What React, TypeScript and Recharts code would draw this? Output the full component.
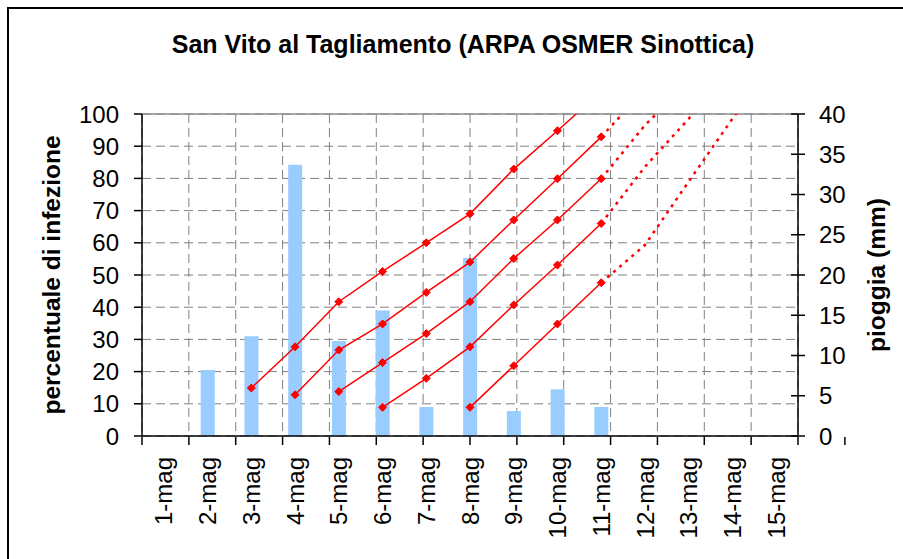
import React from "react";
import {
  Bar,
  CartesianGrid,
  ComposedChart,
  Label,
  Line,
  ReferenceLine,
  XAxis,
  YAxis,
} from "recharts";

// giorni di maggio
const days = [
  "1-mag", "2-mag", "3-mag", "4-mag", "5-mag", "6-mag", "7-mag", "8-mag",
  "9-mag", "10-mag", "11-mag", "12-mag", "13-mag", "14-mag", "15-mag",
];

// pioggia giornaliera (mm)
const rain = [null, 8.2, 12.4, 33.7, 11.8, 15.6, 3.6, 22.1, 3.1, 5.8, 3.6, null, null, null, null];

// percentuale di infezione, una curva per evento di pioggia (osservato)
const inf3 = [null, null, 14.9, 27.7, 41.7, 51.1, 60, 69, 82.9, 94.8, 107, null, null, null, null];
const inf4 = [null, null, null, 12.8, 26.7, 34.8, 44.6, 54, 67.1, 79.9, 92.9, null, null, null, null];
const inf5 = [null, null, null, null, 13.8, 22.8, 31.8, 41.7, 55.1, 67.1, 79.9, null, null, null, null];
const inf6 = [null, null, null, null, null, 8.9, 17.9, 27.7, 40.7, 53.1, 66, null, null, null, null];
const inf8 = [null, null, null, null, null, null, null, 8.9, 21.8, 34.8, 47.6, null, null, null, null];

// previsione (tratteggiato)
const prev4 = [null, null, null, null, null, null, null, null, null, null, 92.9, 107.5, null, null, null];
const prev5 = [null, null, null, null, null, null, null, null, null, null, 79.9, 96.5, 110, null, null];
const prev6 = [null, null, null, null, null, null, null, null, null, null, 66, 83.6, 98.5, 115, null];
const prev8 = [null, null, null, null, null, null, null, null, null, null, 47.6, 59.3, 79, 98.5, 118];

const leftTicks = [0, 10, 20, 30, 40, 50, 60, 70, 80, 90, 100];
const rightTicks = [0, 5, 10, 15, 20, 25, 30, 35, 40];
const bounds = days.map((_, i) => i).concat([days.length]);

const data = days.map((d, i) => ({
  d,
  rain: rain[i],
  inf3: inf3[i],
  inf4: inf4[i],
  inf5: inf5[i],
  inf6: inf6[i],
  inf8: inf8[i],
  prev4: prev4[i],
  prev5: prev5[i],
  prev6: prev6[i],
  prev8: prev8[i],
}));

const FONT = "'Liberation Sans', Arial, sans-serif";
const RED = "#ff0000";

function Diamond(props: any) {
  const { cx, cy, index } = props;
  if (cx == null || cy == null || isNaN(cy)) return <g key={index} />;
  const s = 4;
  return (
    <path
      key={index}
      d={`M${cx},${cy - s}L${cx + s},${cy}L${cx},${cy + s}L${cx - s},${cy}Z`}
      fill={RED}
      stroke={RED}
      strokeWidth={1}
    />
  );
}

function DayTick(props: any) {
  const { x, y, payload } = props;
  return (
    <text
      x={x}
      y={y}
      transform={`rotate(-90, ${x}, ${y})`}
      textAnchor="end"
      dy="0.36em"
      fontFamily={FONT}
      fontSize={24}
      fill="#000"
    >
      {payload.value}
    </text>
  );
}

// solo trattino verso il basso, niente etichetta
function BoundTick(props: any) {
  const { x, y, payload } = props;
  if (payload == null || payload.value < 0 || payload.value > days.length) return <g />;
  return <line x1={x} y1={y - 8} x2={x} y2={y} stroke="#000" strokeWidth={1.5} />;
}

// asse destro: trattino che attraversa l'asse + etichetta
function RainTick(props: any) {
  const { x, y, payload } = props;
  return (
    <g>
      <line x1={x - 28} y1={y} x2={x - 14} y2={y} stroke="#000" strokeWidth={1.5} />
      <text x={x} y={y} dy="0.36em" textAnchor="start" fontFamily={FONT} fontSize={24} fill="#000">
        {payload.value}
      </text>
    </g>
  );
}

// linee verticali della griglia sui confini dei giorni, solo dentro l'area del grafico
function boundaryLines(props: any) {
  const { xAxis, offset } = props;
  const s = xAxis.scale;
  const pos = bounds.map((b) => (typeof s === "function" ? s(b) : s.map(b)));
  const lo = offset.left - 1;
  const hi = offset.left + offset.width + 1;
  return pos.filter((p: number) => p >= lo && p <= hi);
}

const tickStyle = { fontFamily: FONT, fontSize: 24, fill: "#000" };

export default function App() {
  return (
    <div style={{ position: "absolute", left: 0, top: 0, width: 903, height: 559, background: "#fff", overflow: "hidden" }}>
      <div
        style={{
          position: "absolute",
          left: 7,
          top: 7,
          width: 920,
          height: 580,
          border: "2px solid #000",
        }}
      />
      <div
        style={{
          position: "absolute",
          left: 23,
          top: 32,
          width: 880,
          textAlign: "center",
          fontFamily: FONT,
          fontWeight: "bold",
          fontSize: 25,
          lineHeight: "25px",
          color: "#000",
        }}
      >
        San Vito al Tagliamento (ARPA OSMER Sinottica)
      </div>
      <div style={{ position: "absolute", left: 0, top: 0 }}>
        <ComposedChart
          width={903}
          height={559}
          data={data}
          margin={{ top: 114, right: 8, bottom: 121, left: 8 }}
        >
          <XAxis
            xAxisId="g"
            type="number"
            domain={[0, days.length]}
            ticks={bounds}
            interval={0}
            tick={<BoundTick />}
            tickSize={8}
            tickMargin={0}
            axisLine={false}
            tickLine={false}
            height={1}
            allowDataOverflow
          />
          <CartesianGrid
            xAxisId="g"
            yAxisId="left"
            stroke="#808080"
            strokeDasharray="9 5"
            verticalCoordinatesGenerator={boundaryLines}
          />
          <XAxis
            dataKey="d"
            height={1}
            tickLine={false}
            tickSize={0}
            tickMargin={21}
            interval={0}
            axisLine={{ stroke: "#000", strokeWidth: 1.5 }}
            tick={<DayTick />}
          />
          <YAxis
            yAxisId="left"
            width={134}
            domain={[0, 100]}
            ticks={leftTicks}
            interval={0}
            allowDataOverflow
            tickSize={8}
            tickMargin={15}
            axisLine={{ stroke: "#000", strokeWidth: 1.5 }}
            tickLine={{ stroke: "#000", strokeWidth: 1.5 }}
            tick={tickStyle}
          >
            <Label
              value="percentuale di infezione"
              angle={-90}
              position="center"
              dx={-24}
              style={{ fontFamily: FONT, fontSize: 24.5, fontWeight: "bold", fill: "#000" }}
            />
          </YAxis>
          <YAxis
            yAxisId="right"
            orientation="right"
            width={97}
            domain={[0, 40]}
            ticks={rightTicks}
            interval={0}
            allowDataOverflow
            tickSize={7}
            tickMargin={14}
            axisLine={{ stroke: "#000", strokeWidth: 1.5 }}
            tickLine={false}
            tick={<RainTick />}
          >
            <Label
              value="pioggia (mm)"
              angle={-90}
              position="center"
              dx={30}
              style={{ fontFamily: FONT, fontSize: 24.5, fontWeight: "bold", fill: "#000" }}
            />
          </YAxis>
          <ReferenceLine yAxisId="left" y={100} stroke="#8c8c8c" strokeWidth={1.5} />
          <Bar yAxisId="right" dataKey="rain" fill="#99ccff" barSize={14} isAnimationActive={false} />
          {["inf3", "inf4", "inf5", "inf6", "inf8"].map((k) => (
            <Line
              key={k}
              yAxisId="left"
              dataKey={k}
              stroke={RED}
              strokeWidth={1.5}
              dot={<Diamond />}
              activeDot={false}
              isAnimationActive={false}
            />
          ))}
          {["prev4", "prev5", "prev6", "prev8"].map((k) => (
            <Line
              key={k}
              yAxisId="left"
              dataKey={k}
              stroke={RED}
              strokeWidth={2.5}
              strokeDasharray="3 5"
              dot={false}
              activeDot={false}
              isAnimationActive={false}
            />
          ))}
        </ComposedChart>
      </div>
    </div>
  );
}
